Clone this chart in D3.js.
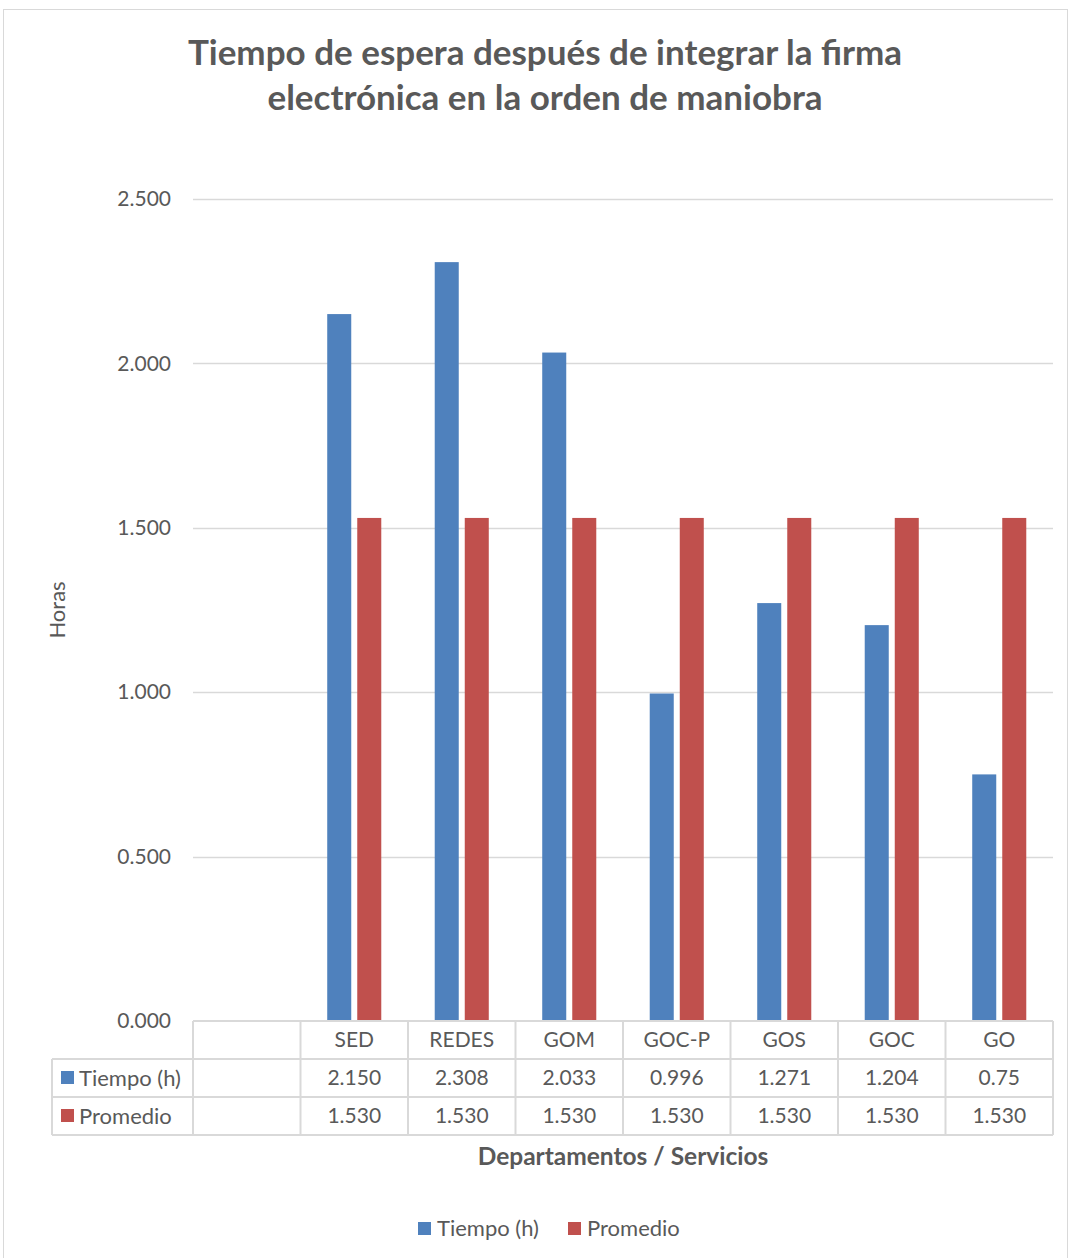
<!DOCTYPE html>
<html>
<head>
<meta charset="utf-8">
<script src="https://cdn.jsdelivr.net/npm/d3@7"></script>
<style>
  html, body { margin: 0; padding: 0; background: #fff; }
  svg text { font-family: Lato, "Open Sans", sans-serif; }
</style>
</head>
<body>
<div id="chart"></div>
<script>
// Chart data
const categories = ["", "SED", "REDES", "GOM", "GOC-P", "GOS", "GOC", "GO"];
const tiempo = [null, 2.150, 2.308, 2.033, 0.996, 1.271, 1.204, 0.75];
const promedio = [null, 1.530, 1.530, 1.530, 1.530, 1.530, 1.530, 1.530];
const tiempoLabels = ["", "2.150", "2.308", "2.033", "0.996", "1.271", "1.204", "0.75"];
const promedioLabels = ["", "1.530", "1.530", "1.530", "1.530", "1.530", "1.530", "1.530"];
const yTicks = [0, 0.5, 1, 1.5, 2, 2.5];
const seriesNames = ["Tiempo (h)", "Promedio"];
const colors = ["#4F81BD", "#C0504D"];

const width = 1070, height = 1258;
const plot = { left: 193, right: 1053, top: 199, bottom: 1021 };
const textColor = "#595959";
const gridColor = "#d9d9d9";

const svg = d3.select("#chart")
  .append("svg")
  .attr("width", width)
  .attr("height", height);

// Chart frame
svg.append("rect")
  .attr("x", 3.5).attr("y", 9.5)
  .attr("width", 1064).attr("height", 1260)
  .attr("fill", "#fff")
  .attr("stroke", gridColor);

// Title
const title = svg.append("text")
  .attr("x", 545)
  .attr("text-anchor", "middle")
  .attr("fill", textColor)
  .style("font-size", "35px")
  .style("font-weight", "bold");
title.append("tspan").attr("x", 545).attr("y", 65).text("Tiempo de espera después de integrar la firma");
title.append("tspan").attr("x", 545).attr("y", 110).text("electrónica en la orden de maniobra");

// Scales
const x = d3.scaleBand()
  .domain(categories.map((d, i) => i))
  .range([plot.left, plot.right]);

const y = d3.scaleLinear()
  .domain([0, 2.5])
  .range([plot.bottom, plot.top]);

const x1 = d3.scaleBand()
  .domain([0, 1])
  .range([0, x.bandwidth()])
  .paddingInner(0.2)
  .paddingOuter(0.89);

// Gridlines
svg.append("g")
  .selectAll("line")
  .data(yTicks.filter(d => d > 0))
  .join("line")
  .attr("x1", plot.left)
  .attr("x2", plot.right)
  .attr("y1", d => Math.round(y(d)) + 0.5)
  .attr("y2", d => Math.round(y(d)) + 0.5)
  .attr("stroke", gridColor)
  .attr("stroke-width", 1.5);

// Y axis labels
const yAxis = svg.append("g")
  .attr("transform", `translate(${plot.left}, 0)`)
  .call(d3.axisLeft(y).tickValues(yTicks).tickFormat(d3.format(".3f")).tickSize(0).tickPadding(22));
yAxis.select(".domain").remove();
yAxis.selectAll("text")
  .attr("fill", textColor)
  .style("font-size", "21px");

// Y axis title
svg.append("text")
  .attr("transform", `translate(65, ${(plot.top + plot.bottom) / 2}) rotate(-90)`)
  .attr("text-anchor", "middle")
  .attr("fill", textColor)
  .style("font-size", "22px")
  .text("Horas");

// Bars
const series = [tiempo, promedio];
series.forEach((values, s) => {
  svg.append("g")
    .selectAll("rect")
    .data(values.map((v, i) => ({ i, v })).filter(d => d.v !== null))
    .join("rect")
    .attr("x", d => x(d.i) + x1(s))
    .attr("y", d => y(d.v))
    .attr("width", x1.bandwidth())
    .attr("height", d => y(0) - y(d.v))
    .attr("fill", colors[s]);
});

// Data table
const rowH = 38;
const tableTop = plot.bottom;
const tableLeft = 52;
const table = svg.append("g")
  .attr("stroke", gridColor)
  .attr("stroke-width", 2)
  .attr("fill", "none");

// horizontal lines
table.append("line")
  .attr("x1", plot.left).attr("x2", plot.right)
  .attr("y1", tableTop).attr("y2", tableTop);
[1, 2, 3].forEach(r => {
  table.append("line")
    .attr("x1", tableLeft).attr("x2", plot.right)
    .attr("y1", tableTop + r * rowH).attr("y2", tableTop + r * rowH);
});
// vertical lines
table.append("line")
  .attr("x1", tableLeft).attr("x2", tableLeft)
  .attr("y1", tableTop + rowH).attr("y2", tableTop + 3 * rowH);
categories.forEach((c, i) => {
  table.append("line")
    .attr("x1", x(i)).attr("x2", x(i))
    .attr("y1", tableTop).attr("y2", tableTop + 3 * rowH);
});
table.append("line")
  .attr("x1", plot.right).attr("x2", plot.right)
  .attr("y1", tableTop).attr("y2", tableTop + 3 * rowH);

// table text
const rows = [categories, tiempoLabels, promedioLabels];
rows.forEach((row, r) => {
  svg.append("g")
    .selectAll("text")
    .data(row)
    .join("text")
    .attr("x", (d, i) => x(i) + x.bandwidth() / 2)
    .attr("y", tableTop + r * rowH + rowH / 2)
    .attr("dy", "0.35em")
    .attr("text-anchor", "middle")
    .attr("fill", textColor)
    .style("font-size", "21px")
    .text(d => d);
});

// row headers with legend keys
seriesNames.forEach((name, s) => {
  const cy = tableTop + (s + 1) * rowH + rowH / 2;
  svg.append("rect")
    .attr("x", 61).attr("y", cy - 7)
    .attr("width", 13).attr("height", 13)
    .attr("fill", colors[s]);
  svg.append("text")
    .attr("x", 79).attr("y", cy)
    .attr("dy", "0.35em")
    .attr("fill", textColor)
    .style("font-size", "22px")
    .text(name);
});

// X axis title
svg.append("text")
  .attr("x", (plot.left + plot.right) / 2)
  .attr("y", 1165)
  .attr("text-anchor", "middle")
  .attr("fill", textColor)
  .style("font-size", "24.5px")
  .style("font-weight", "bold")
  .text("Departamentos / Servicios");

// Legend
const legendX = [418, 568];
seriesNames.forEach((name, s) => {
  svg.append("rect")
    .attr("x", legendX[s]).attr("y", 1222)
    .attr("width", 13).attr("height", 13)
    .attr("fill", colors[s]);
  svg.append("text")
    .attr("x", legendX[s] + 19).attr("y", 1228)
    .attr("dy", "0.35em")
    .attr("fill", textColor)
    .style("font-size", "22px")
    .text(name);
});
</script>
</body>
</html>
